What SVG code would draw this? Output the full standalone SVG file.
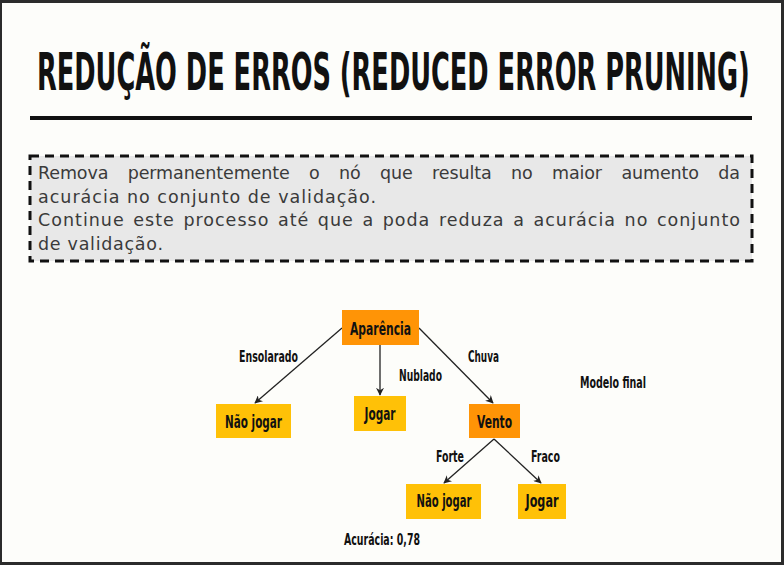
<svg xmlns="http://www.w3.org/2000/svg" width="784" height="565" viewBox="0 0 784 565">
<defs>
<style>
.cond{font-family:"DejaVu Sans Condensed","DejaVu Sans",sans-serif;font-weight:bold;fill:#111;}
.title{font-size:52px;}
.lbl{font-size:15px;}
.ntxt{font-size:18px;text-anchor:middle;}
.para{font-family:"DejaVu Sans","Open Sans",sans-serif;font-size:17.5px;fill:#3a3a3a;}
.orange{fill:#FF9406;}
.yellow{fill:#FFC107;}
.edge{stroke:#222;stroke-width:1.3;fill:none;marker-end:url(#arr);}
</style>
<marker id="arr" viewBox="0 0 10 10" refX="9" refY="5" markerWidth="8" markerHeight="8" orient="auto" markerUnits="userSpaceOnUse">
<path d="M0,0 L10,5 L0,10 L3,5 z" fill="#222"/>
</marker>
</defs>
<rect x="0" y="0" width="784" height="565" fill="#2b2b2b"/>
<rect x="2" y="3" width="779" height="559" fill="#fdfdfa"/>

<g id="title">
<text class="cond title" transform="translate(37,90) scale(0.55,1)" x="0" y="0" textLength="1296" lengthAdjust="spacingAndGlyphs">REDUÇÃO DE ERROS (REDUCED ERROR PRUNING)</text>
<rect x="30" y="116" width="722" height="4" fill="#111"/>
</g>

<g id="note">
<rect x="30" y="156" width="722" height="105" fill="#e8e8e8" stroke="#111" stroke-width="3" stroke-dasharray="9,6"/>
<text class="para" x="38" y="179" word-spacing="14" textLength="702" lengthAdjust="spacing">Remova permanentemente o nó que resulta no maior aumento da</text>
<text class="para" x="38" y="203" textLength="338" lengthAdjust="spacing">acurácia no conjunto de validação.</text>
<text class="para" x="38" y="226" word-spacing="2" textLength="702" lengthAdjust="spacing">Continue este processo até que a poda reduza a acurácia no conjunto</text>
<text class="para" x="38" y="250" textLength="125" lengthAdjust="spacing">de validação.</text>
</g>

<g id="connectors">
<line class="edge" x1="342" y1="328" x2="255" y2="403"/>
<line class="edge" x1="380" y1="345" x2="380" y2="395"/>
<line class="edge" x1="419" y1="328" x2="493" y2="403"/>
<line class="edge" x1="494" y1="439" x2="444" y2="483"/>
<line class="edge" x1="494" y1="439" x2="541" y2="483"/>
</g>

<g id="edge-labels">
<text class="cond lbl" x="239" y="362" textLength="59" lengthAdjust="spacingAndGlyphs">Ensolarado</text>
<text class="cond lbl" x="399" y="381" textLength="43" lengthAdjust="spacingAndGlyphs">Nublado</text>
<text class="cond lbl" x="468" y="362" textLength="31" lengthAdjust="spacingAndGlyphs">Chuva</text>
<text class="cond lbl" x="436" y="462" textLength="28" lengthAdjust="spacingAndGlyphs">Forte</text>
<text class="cond lbl" x="531" y="462" textLength="29" lengthAdjust="spacingAndGlyphs">Fraco</text>
</g>

<g id="node-aparencia">
<rect class="orange" x="342" y="310" width="77" height="35"/>
<text class="cond ntxt" x="380.5" y="335" textLength="61" lengthAdjust="spacingAndGlyphs">Aparência</text>
</g>
<g id="node-naojogar1">
<rect class="yellow" x="216" y="404" width="75" height="34"/>
<text class="cond ntxt" x="253.5" y="428" textLength="57" lengthAdjust="spacingAndGlyphs">Não jogar</text>
</g>
<g id="node-jogar1">
<rect class="yellow" x="354" y="396" width="52" height="35"/>
<text class="cond ntxt" x="380" y="420" textLength="31" lengthAdjust="spacingAndGlyphs">Jogar</text>
</g>
<g id="node-vento">
<rect class="orange" x="469" y="404" width="51" height="34"/>
<text class="cond ntxt" x="494.5" y="428" textLength="35" lengthAdjust="spacingAndGlyphs">Vento</text>
</g>
<g id="node-naojogar2">
<rect class="yellow" x="406" y="484" width="75" height="35"/>
<text class="cond ntxt" x="444" y="507" textLength="55" lengthAdjust="spacingAndGlyphs">Não jogar</text>
</g>
<g id="node-jogar2">
<rect class="yellow" x="518" y="484" width="48" height="35"/>
<text class="cond ntxt" x="542" y="507" textLength="33" lengthAdjust="spacingAndGlyphs">Jogar</text>
</g>

<g id="captions">
<text class="cond lbl" x="580" y="388" textLength="66" lengthAdjust="spacingAndGlyphs">Modelo final</text>
<text class="cond lbl" x="344" y="545" textLength="76" lengthAdjust="spacingAndGlyphs">Acurácia: 0,78</text>
</g>
</svg>
